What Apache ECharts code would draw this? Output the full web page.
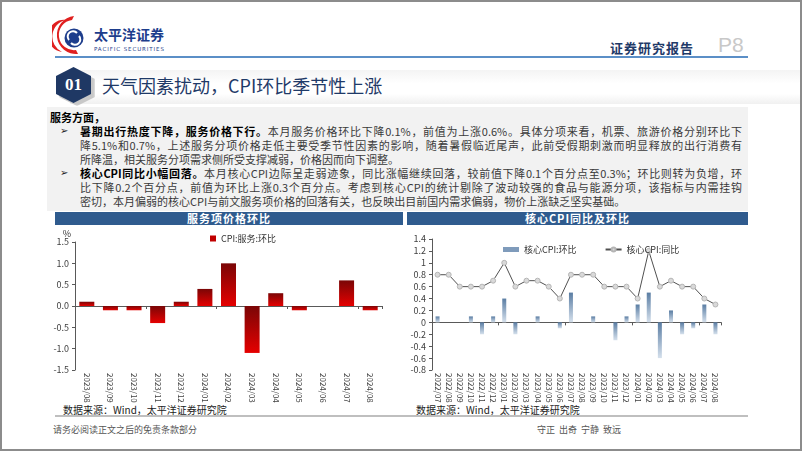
<!DOCTYPE html>
<html><head><meta charset="utf-8">
<script src="https://cdn.jsdelivr.net/npm/echarts@6/dist/echarts.min.js"></script>
<style>
body{margin:0;width:802px;height:451px;overflow:hidden;background:#fff;font-family:"Noto Sans CJK SC","Noto Sans",sans-serif;}
.abs{position:absolute;}
#frame{left:0;top:0;width:802px;height:451px;box-sizing:border-box;border:2px solid #8c8c8c;}
.line{position:absolute;left:80px;width:662px;height:14px;line-height:14px;font-size:11px;color:#3a3a3a;text-align:justify;text-align-last:justify;white-space:normal;}
.line.last{text-align-last:left;}
.line b{color:#000;}
.bul{position:absolute;left:60px;font-size:10px;line-height:14px;font-family:"DejaVu Sans";color:#222;}
.bar{position:absolute;height:13px;background:#2f5b8e;color:#fff;font-size:11px;font-weight:bold;line-height:13px;text-align:center;letter-spacing:1px;}
.src{position:absolute;font-size:10px;color:#222;}
</style></head>
<body>
<div id="frame" class="abs"></div>
<!-- logo -->
<svg class="abs" style="left:52px;top:12px" width="120" height="48">
  <path d="M22 4 A19 19 0 1 0 26 42 L24 38 A15 15 0 1 1 20 8 Z" fill="#e0201f"/>
  <path d="M14 8 A17 17 0 0 0 10 40 A14 14 0 0 1 14 8 Z" fill="#e0201f"/>
  <circle cx="22" cy="26" r="9.5" fill="#1d3d8c"/>
  <path d="M17 28 A5 5 0 0 1 25 21" stroke="#fff" stroke-width="2" fill="none"/>
  <path d="M27 24 A5 5 0 0 1 19 31" stroke="#fff" stroke-width="2" fill="none"/>
  <text x="42" y="28" font-size="14" font-weight="bold" fill="#1d3d8c" font-family="Noto Sans CJK SC">太平洋证券</text>
  <text x="42" y="39" font-size="5.5" fill="#1d3d8c" letter-spacing="0.9" font-family="DejaVu Sans">PACIFIC SECURITIES</text>
</svg>
<div class="abs" style="left:55px;top:56px;width:693px;height:2px;background:#5b8fc7"></div>
<div class="abs" style="left:610px;top:38px;font-size:13px;color:#1f3a68;font-weight:bold;letter-spacing:1px">证券研究报告</div>
<div class="abs" style="left:718px;top:33px;font-size:21px;color:#c8c8c8;font-family:'Liberation Sans'">P8</div>
<!-- section header -->
<div class="abs" style="left:70px;top:70px;width:730px;height:34px;background:linear-gradient(#f4f4f4,#fff 40%,#fff 70%,#f0f0f0)"></div>
<div class="abs" style="left:59px;top:70px;width:36px;height:36px;background:#c8c8c8;clip-path:polygon(50% 0,100% 25%,100% 75%,50% 100%,0 75%,0 25%);filter:blur(1px)"></div>
<div class="abs" style="left:56px;top:67px;width:35px;height:36px;background:#1f3864;clip-path:polygon(50% 0,100% 25%,100% 75%,50% 100%,0 75%,0 25%);color:#fff;font:bold 17px 'Liberation Serif';line-height:36px;text-align:center">01</div>
<div class="abs" style="left:102px;top:73px;font-size:18px;color:#1f3a68;line-height:24px">天气因素扰动，CPI环比季节性上涨</div>
<!-- text box -->
<div class="abs" style="left:47px;top:107px;width:701px;height:104px;background:#f2f2f2"></div>
<div class="abs" style="left:50px;top:110px;font-size:11px;line-height:14px;color:#000;font-weight:bold">服务方面，</div>
<div class="bul" style="top:124px">➢</div>
<div class="line" style="top:124px"><b>暑期出行热度下降，服务价格下行。</b>本月服务价格环比下降0.1%，前值为上涨0.6%。具体分项来看，机票、旅游价格分别环比下</div>
<div class="line" style="top:138px">降5.1%和0.7%，上述服务分项价格走低主要受季节性因素的影响，随着暑假临近尾声，此前受假期刺激而明显释放的出行消费有</div>
<div class="line last" style="top:152px">所降温，相关服务分项需求侧所受支撑减弱，价格因而向下调整。</div>
<div class="bul" style="top:166px">➢</div>
<div class="line" style="top:166px"><b>核心CPI同比小幅回落。</b>本月核心CPI边际呈走弱迹象，同比涨幅继续回落，较前值下降0.1个百分点至0.3%；环比则转为负增，环</div>
<div class="line" style="top:180px">比下降0.2个百分点，前值为环比上涨0.3个百分点。考虑到核心CPI的统计剔除了波动较强的食品与能源分项，该指标与内需挂钩</div>
<div class="line last" style="top:194px">密切，本月偏弱的核心CPI与前文服务项价格的回落有关，也反映出目前国内需求偏弱，物价上涨缺乏坚实基础。</div>
<!-- chart title bars -->
<div class="bar" style="left:55px;top:212px;width:348px">服务项价格环比</div>
<div class="bar" style="left:407px;top:212px;width:341px">核心CPI同比及环比</div>
<div class="src" style="left:63px;top:402px">数据来源：Wind，太平洋证券研究院</div>
<div class="src" style="left:416px;top:402px">数据来源：Wind，太平洋证券研究院</div>
<div class="abs" style="left:55px;top:415px;width:693px;height:2px;background:#bfbfbf"></div>
<div class="abs" style="left:53px;top:423px;font-size:9px;color:#555">请务必阅读正文之后的免责条款部分</div>
<div class="abs" style="left:537px;top:423px;font-size:9px;color:#555;word-spacing:2px">守正 出奇 宁静 致远</div>
<div id="chart" class="abs" style="left:0;top:0;width:802px;height:451px"></div>
<script>
const cats1 = ['2023/08','2023/09','2023/10','2023/11','2023/12','2024/01','2024/02','2024/03','2024/04','2024/05','2024/06','2024/07','2024/08'];
const svcMoM = [0.1,-0.1,-0.1,-0.4,0.1,0.4,1.0,-1.1,0.3,-0.1,0,0.6,-0.1];
const cats2 = ['2022/07','2022/08','2022/09','2022/10','2022/11','2022/12','2023/01','2023/02','2023/03','2023/04','2023/05','2023/06','2023/07','2023/08','2023/09','2023/10','2023/11','2023/12','2024/01','2024/02','2024/03','2024/04','2024/05','2024/06','2024/07','2024/08'];
const coreMoM = [0.1,0,0,0.1,-0.2,0.1,0.4,-0.2,0,0.1,0,-0.1,0.5,0,0.1,0,-0.3,0.1,0.3,0.5,-0.6,0.2,-0.2,-0.1,0.3,-0.2];
const coreYoY = [0.8,0.8,0.6,0.6,0.6,0.7,1.0,0.6,0.7,0.7,0.6,0.4,0.8,0.8,0.8,0.6,0.6,0.6,0.4,1.2,0.6,0.7,0.6,0.6,0.4,0.3];

const chart = echarts.init(document.getElementById('chart'), null, {renderer:'canvas'});
const ff = '"Noto Sans CJK SC", sans-serif';
const redGrad = new echarts.graphic.LinearGradient(0,0,0,1,[{offset:0,color:'#7a0606'},{offset:1,color:'#e50000'}]);
const blueGrad = new echarts.graphic.LinearGradient(0,0,0,1,[{offset:0,color:'#5a7da3'},{offset:1,color:'#d5e0ec'}]);
const axisCol = '#595959';
chart.setOption({
  animation:false,
  textStyle:{fontFamily:ff},
  legend:[
    {left:205,top:229,itemWidth:6,itemHeight:6,textStyle:{fontSize:9,color:'#333'},data:[{name:'CPI:服务:环比',icon:'rect',itemStyle:{color:'#c00000'}}]},
    {left:498,top:240,itemWidth:16,itemHeight:5,itemGap:28,textStyle:{fontSize:9,color:'#333'},data:[{name:'核心CPI:环比',icon:'rect',itemStyle:{color:'#7f9bbb'}},{name:'核心CPI:同比'}]}
  ],
  grid:[
    {left:75,right:420,top:242,bottom:81},
    {left:432,right:81,top:239,bottom:81}
  ],
  xAxis:[
    {gridIndex:0,type:'category',data:cats1,axisLine:{onZero:true,lineStyle:{color:axisCol}},axisTick:{show:true,length:3,lineStyle:{color:axisCol}},axisLabel:{show:false}},
    {gridIndex:0,type:'category',data:cats1,position:'bottom',axisLine:{show:false,onZero:false},axisTick:{show:false},axisLabel:{rotate:-90,interval:0,fontSize:8,color:'#404040',margin:3}},
    {gridIndex:1,type:'category',data:cats2,axisLine:{onZero:true,lineStyle:{color:axisCol}},axisTick:{show:true,length:3,lineStyle:{color:axisCol}},axisLabel:{show:false}},
    {gridIndex:1,type:'category',data:cats2,position:'bottom',axisLine:{show:false,onZero:false},axisTick:{show:false},axisLabel:{rotate:-90,interval:0,fontSize:8,color:'#404040',margin:3}}
  ],
  yAxis:[
    {gridIndex:0,type:'value',min:-1.5,max:1.5,interval:0.5,name:'%',nameGap:3,nameTextStyle:{fontSize:9,color:'#333',align:'right',padding:[0,4,0,0]},
     axisLine:{show:true,lineStyle:{color:axisCol}},axisTick:{show:true,length:3,lineStyle:{color:axisCol}},splitLine:{show:false},
     axisLabel:{fontSize:9,color:'#404040',margin:6,formatter:v=>v.toFixed(1)}},
    {gridIndex:1,type:'value',min:-0.8,max:1.4,interval:0.2,
     axisLine:{show:true,lineStyle:{color:axisCol}},axisTick:{show:true,length:3,lineStyle:{color:axisCol}},splitLine:{show:false},
     axisLabel:{fontSize:9,color:'#404040',margin:6,formatter:v=>String(Math.round(v*10)/10)}}
  ],
  series:[
    {name:'CPI:服务:环比',type:'bar',xAxisIndex:0,yAxisIndex:0,data:svcMoM,barWidth:15,itemStyle:{color:redGrad}},
    {name:'核心CPI:环比',type:'bar',xAxisIndex:2,yAxisIndex:1,data:coreMoM,barWidth:4,itemStyle:{color:blueGrad}},
    {name:'核心CPI:同比',type:'line',xAxisIndex:2,yAxisIndex:1,data:coreYoY,symbol:'circle',symbolSize:5,
     lineStyle:{color:'#505050',width:1},itemStyle:{color:'#d9d9d9',borderColor:'#b5b5b5',borderWidth:1}}
  ]
});
</script>
</body></html>
